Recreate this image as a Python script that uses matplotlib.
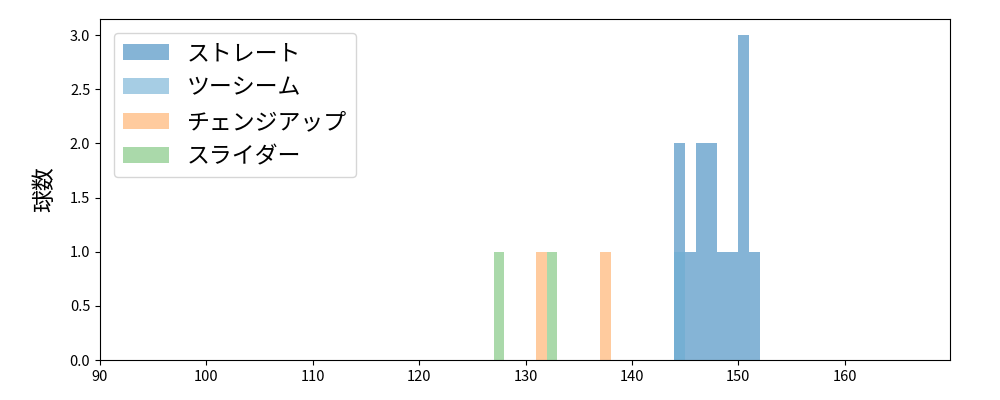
import numpy as np
import matplotlib
matplotlib.use('Agg')
import matplotlib.pyplot as plt

plt.rcParams['font.family'] = ['Noto Sans CJK JP', 'DejaVu Sans']

# pitch speeds (km/h) per pitch type
straight = [144, 144, 145, 146, 146, 147, 147, 148, 149, 150, 150, 150, 151]
twoseam = [144]
changeup = [131, 137]
slider = [127, 132]

pitch_names = ['ストレート', 'ツーシーム', 'チェンジアップ', 'スライダー']
pitch_data = [straight, twoseam, changeup, slider]
pitch_colors = ['#3482bb', '#6badd2', '#ff7f0e', '#2ca02c']
pitch_alpha = [0.6, 0.6, 0.4, 0.4]

fig, ax = plt.subplots(figsize=(10, 4), dpi=100)
for name, vals, col, a in zip(pitch_names, pitch_data, pitch_colors, pitch_alpha):
    bins = np.arange(min(vals), max(vals) + 2)
    ax.hist(vals, bins=bins, color=col, alpha=a, label=name)

ax.set_xlim(90, 169.9)
ax.tick_params(labelsize=10.5)
ax.set_ylabel('球数', fontsize=16.5, labelpad=10)
ax.legend(loc='upper left', fontsize=16.5, borderaxespad=0.6)
plt.subplots_adjust(left=0.1, right=0.95, top=0.9525, bottom=0.1)
fig.savefig('out.png')
